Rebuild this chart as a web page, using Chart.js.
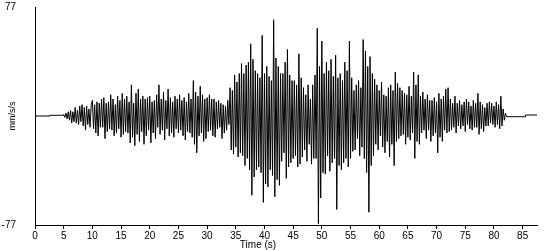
<!DOCTYPE html>
<html>
<head>
<meta charset="utf-8">
<script src="https://cdn.jsdelivr.net/npm/chart.js@4/dist/chart.umd.min.js"></script>
<style>
  html, body { margin: 0; padding: 0; background: #fff; }
  #c { display: block; }
</style>
</head>
<body>
<canvas id="c" width="550" height="250"></canvas>
<script>
// ---- data ----
const xTitle = 'Time (s)';
const yTitle = 'mm/s/s';
const xTickValues = [0, 5, 10, 15, 20, 25, 30, 35, 40, 45, 50, 55, 60, 65, 70, 75, 80, 85];
const yTickValues = [-77, 77];
const xMax = 87.5;

// quiet lead-in before the record (time s, value)
const leadTimes  = [0, 2.6, 2.6, 5];
const leadValues = [0, 0, 0.5, 0.5];

// sampled record: starts at 5 s, one value every 0.2 s (one row per second)
const recordStart = 5;
const recordStep = 0.2;
const accel = [
  1, -1, 2, -2, 3,
  -3, 4, -5, 3, -4,
  6, -5, 4, -6, 7,
  -4, 8, -7, 6, -10,
  7, -6, 5, -8, 8,
  11, -9, 8, -12, 10,
  -14, 9, -8, 12, -8,
  13, -16, 9, -11, 10,
  -9, 15, -10, 12, -14,
  8, -12, 14, -9, 11,
  -15, 16, -13, 12, -11,
  14, -12, 10, -19, 22,
  -15, 9, -21, 16, -13,
  19, -18, 12, -11, 14,
  -20, 12, -14, 13, -10,
  14, -19, 10, -12, 11,
  -16, 15, -8, 22, -13,
  12, -10, 17, -17, 11,
  -9, 19, -14, 13, -12,
  10, -15, 14, -9, 12,
  -12, 15, -10, 11, -14,
  13, -17, 10, -11, 16,
  -12, 12, -15, 25, -20,
  17, -26, 14, -14, 21,
  -12, 15, -18, 12, -16,
  13, -11, 15, -10, 12,
  -14, 12, -15, 10, -9,
  11, -8, 9, -16, 8,
  -12, 7, -10, 11, -6,
  20, -24, 18, -27, 29,
  -22, 24, -29, 30, -26,
  37, -28, 30, -35, 36,
  -30, 38, -38, 51, -56,
  40, -43, 32, -38, 30,
  -36, 27, -40, 57, -61,
  30, -48, 35, -50, 28,
  -38, 25, -42, 68, -57,
  41, -45, 35, -49, 30,
  -32, 30, -26, 38, -44,
  47, -36, 29, -33, 25,
  -30, 25, -28, 22, -36,
  44, -34, 27, -29, 20,
  -24, 15, -32, 22, -20,
  12, -34, 22, -30, 29,
  -30, 62, -76, 35, -58,
  53, -40, 30, -41, 38,
  -28, 32, -39, 40, -33,
  28, -30, 43, -66, 27,
  -35, 30, -38, 25, -33,
  38, -30, 32, -36, 53,
  -30, 27, -25, 18, -24,
  22, -16, 25, -28, 20,
  -22, 54, -30, 46, -40,
  35, -68, 42, -35, 30,
  -28, 26, -20, 22, -24,
  18, -14, 24, -22, 15,
  -26, 14, -18, 20, -29,
  22, -20, 18, -35, 31,
  -18, 23, -16, 20, -14,
  18, -13, 16, -20, 15,
  -15, 21, -17, 14, -12,
  31, -30, 22, -18, 29,
  -20, 14, -12, 17, -10,
  12, -16, 15, -10, 11,
  -18, 11, -14, 13, -12,
  10, -26, 16, -15, 12,
  -18, 14, -10, 19, -12,
  20, -11, 12, -10, 9,
  -8, 14, -12, 9, -7,
  11, -9, 8, -7, 10,
  -11, 12, -6, 10, -9,
  7, -10, 11, -8, 9,
  -8, 16, -13, 10, -9,
  8, -11, 6, -7, 9,
  -7, 10, -5, 9, -6,
  7, -8, 10, -6, 8,
  -9, 14, -7, 5, -3,
  2, -0.5
];

// quiet tail after the record (time s, value)
const tailTimes  = [82.25, 85.5, 85.5, 87.5];
const tailValues = [-0.5, -0.5, 0.7, 0.7];

// ---- build points ----
const points = [];
leadTimes.forEach((t, i) => points.push({ x: t, y: leadValues[i] }));
accel.forEach((v, i) => points.push({ x: recordStart + i * recordStep, y: v }));
tailTimes.forEach((t, i) => points.push({ x: t, y: tailValues[i] }));

const FONT = '"Liberation Sans", Arial, sans-serif';

const axisTitles = {
  id: 'axisTitles',
  afterDraw(chart) {
    const ctx = chart.ctx;
    const area = chart.chartArea;
    ctx.save();
    ctx.fillStyle = '#000';
    ctx.textAlign = 'center';
    ctx.textBaseline = 'middle';
    ctx.font = '10px ' + FONT;
    ctx.fillText(xTitle, 258, 245);
    ctx.translate(13, (area.top + area.bottom) / 2);
    ctx.rotate(-Math.PI / 2);
    ctx.font = '9px ' + FONT;
    ctx.fillText(yTitle, 0, 0);
    ctx.restore();
  }
};

new Chart(document.getElementById('c'), {
  type: 'line',
  data: {
    datasets: [{
      data: points,
      borderColor: '#000',
      borderWidth: 1,
      pointRadius: 0,
      tension: 0,
      fill: false
    }]
  },
  options: {
    responsive: false,
    animation: false,
    events: [],
    parsing: false,
    normalized: true,
    layout: { padding: { top: 5, right: 13, left: 0, bottom: 0 } },
    plugins: { legend: { display: false }, tooltip: { enabled: false }, title: { display: false } },
    scales: {
      x: {
        type: 'linear',
        min: 0,
        max: xMax,
        afterBuildTicks(scale) { scale.ticks = xTickValues.map(v => ({ value: v })); },
        afterFit(scale) { scale.height = 25; },
        ticks: { color: '#000', font: { family: FONT, size: 10 }, padding: 1, maxRotation: 0, autoSkip: false },
        grid: { display: true, drawOnChartArea: false, drawTicks: true, tickLength: 4, color: '#000', lineWidth: 1 },
        border: { display: true, color: '#000', width: 1 }
      },
      y: {
        type: 'linear',
        min: -77,
        max: 77,
        afterBuildTicks(scale) { scale.ticks = yTickValues.map(v => ({ value: v })); },
        afterFit(scale) { scale.width = 35; },
        ticks: { color: '#000', font: { family: FONT, size: 10 }, padding: 1, autoSkip: false },
        grid: { display: false, drawTicks: true, tickLength: 18 },
        border: { display: true, color: '#000', width: 1 }
      }
    }
  },
  plugins: [axisTitles]
});
</script>
</body>
</html>
